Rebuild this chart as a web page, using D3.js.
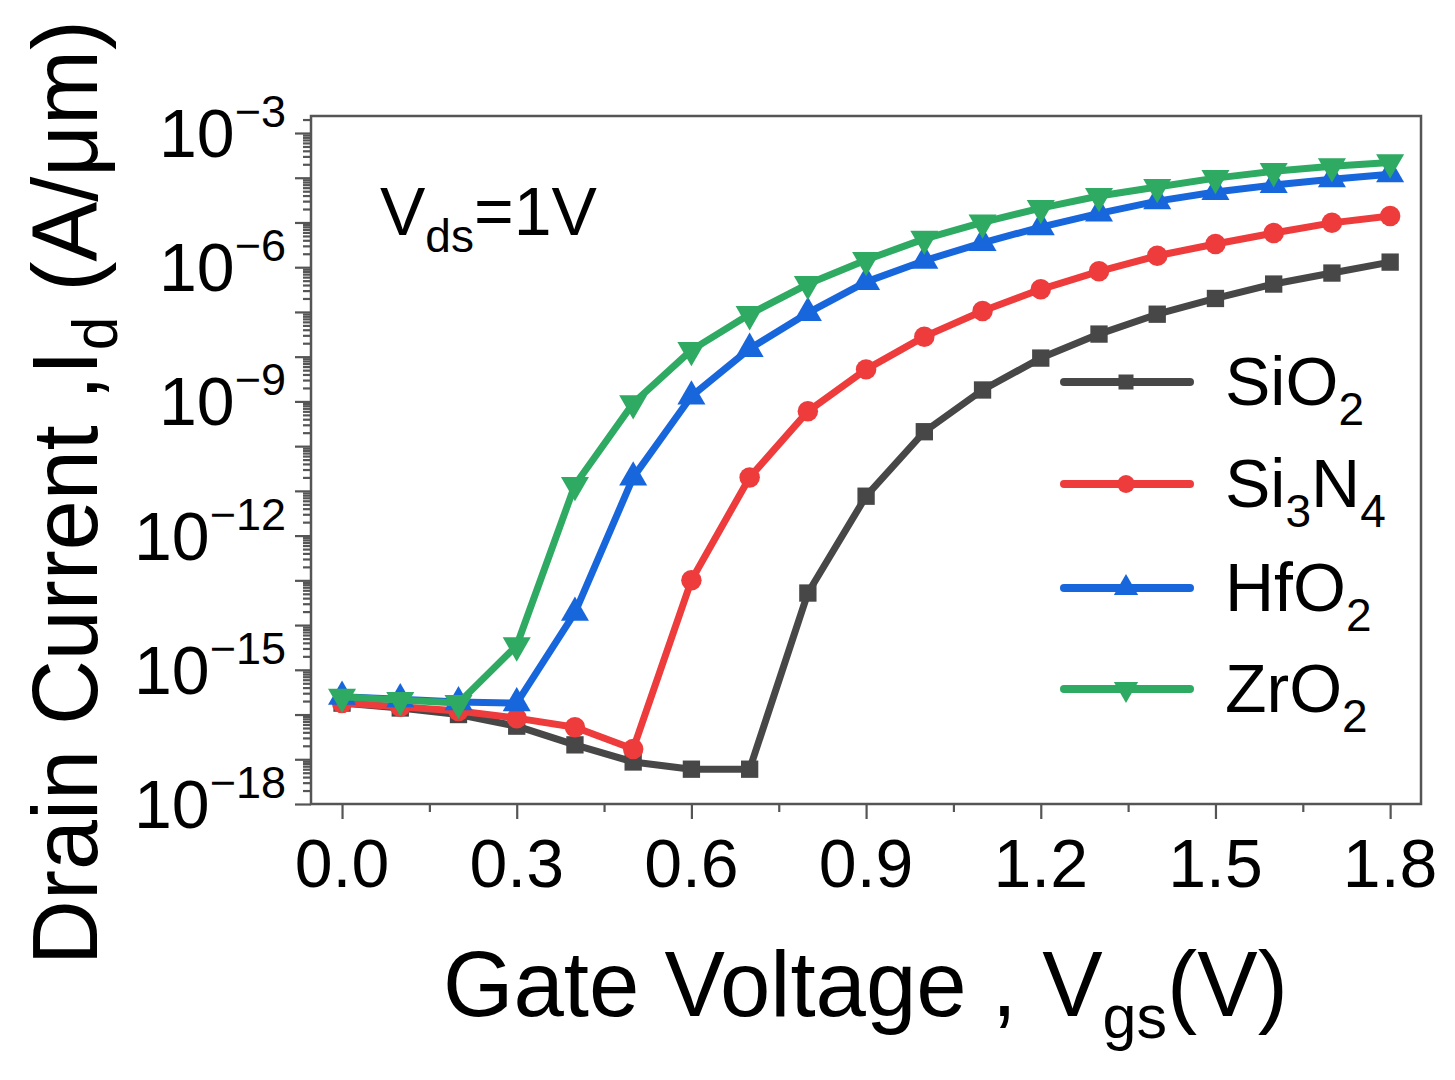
<!DOCTYPE html>
<html>
  <head>
    <meta charset="utf-8">
    <title>Id-Vgs</title>
    <script src="https://d3js.org/d3.v7.min.js"></script>
    <style>
      body { margin: 0; background: #fff; }
      svg text { font-family: "Liberation Sans", Arial, sans-serif; fill: #000; }
    </style>
  </head>
  <body>
    <svg id="chart" width="1455" height="1080"></svg>
    <script>
      // gate voltage (V)
      var vgs = [0.0, 0.1, 0.2, 0.3, 0.4, 0.5, 0.6, 0.7, 0.8, 0.9, 1.0, 1.1, 1.2, 1.3, 1.4, 1.5, 1.6, 1.7, 1.8];

      // drain current (A/um)
      var sio2  = [1.8e-16, 1.4e-16, 1.0e-16, 5.5e-17, 2.1e-17, 8.7e-18, 6.0e-18, 6.0e-18, 5.2e-14, 7.6e-12,
                   2.1e-10, 1.8e-9, 9.3e-9, 3.2e-8, 8.9e-8, 2.0e-7, 4.2e-7, 7.4e-7, 1.3e-6];
      var si3n4 = [1.8e-16, 1.5e-16, 1.2e-16, 8.3e-17, 5.2e-17, 1.7e-17, 1.0e-13, 2.0e-11, 6.0e-10, 5.2e-9,
                   2.8e-8, 1.05e-7, 3.2e-7, 8.1e-7, 1.8e-6, 3.3e-6, 5.8e-6, 9.8e-6, 1.4e-5];
      var hfo2  = [2.5e-16, 2.2e-16, 1.9e-16, 1.8e-16, 1.9e-14, 2.0e-11, 1.3e-9, 1.5e-8, 9.5e-8, 4.7e-7,
                   1.4e-6, 3.5e-6, 7.9e-6, 1.6e-5, 3.0e-5, 4.8e-5, 6.9e-5, 9.3e-5, 1.2e-4];
      var zro2  = [2.5e-16, 2.1e-16, 1.8e-16, 3.5e-15, 1.35e-11, 9.1e-10, 1.4e-8, 8.9e-8, 4.2e-7, 1.45e-6,
                   4.3e-6, 1.0e-5, 2.1e-5, 3.9e-5, 6.2e-5, 9.8e-5, 1.4e-4, 1.8e-4, 2.2e-4];

      var seriesNames = [["Si", "O", "2"], ["Si", "3", "N", "4"], ["Hf", "O", "2"], ["Zr", "O", "2"]];
      var xTicks = [0.0, 0.3, 0.6, 0.9, 1.2, 1.5, 1.8];
      var xMinorTicks = [0.15, 0.45, 0.75, 1.05, 1.35, 1.65];
      var yLabelExps = [-3, -6, -9, -12, -15, -18];

      var series = [
        { name: seriesNames[0], values: sio2,  color: "#474747", shape: d3.symbolSquare,   size: 300, rot: 0 },
        { name: seriesNames[1], values: si3n4, color: "#ee3b3b", shape: d3.symbolCircle,   size: 330, rot: 0 },
        { name: seriesNames[2], values: hfo2,  color: "#1766dc", shape: d3.symbolTriangle, size: 340, rot: 0 },
        { name: seriesNames[3], values: zro2,  color: "#2eaa62", shape: d3.symbolTriangle, size: 340, rot: 180 }
      ];

      var svg = d3.select("#chart");
      var L = 311, R = 1421, T = 116, B = 804;

      var x = d3.scaleLinear().domain([-0.0533, 1.853]).range([L, R]);
      var y = d3.scaleLog().domain([1e-18, 2.4e-3]).range([B, T]);

      var axisColor = "#555";

      // decade ticks and the 2..9 ticks in between
      var majors = [], minors = [];
      for (var e = -18; e <= -3; e++) {
        majors.push(Math.pow(10, e));
        for (var k = 2; k <= 9; k++) {
          var v = k * Math.pow(10, e);
          if (v <= 2.4e-3) minors.push(v);
        }
      }

      var gy = svg.append("g").attr("transform", "translate(" + L + ",0)");
      gy.append("g").call(d3.axisLeft(y).tickValues(minors).tickSize(8).tickFormat(""));
      gy.append("g").call(d3.axisLeft(y).tickValues(majors).tickSize(16).tickFormat(""));

      var gx = svg.append("g").attr("transform", "translate(0," + B + ")");
      gx.append("g").call(d3.axisBottom(x).tickValues(xMinorTicks).tickSize(8).tickFormat(""));
      gx.append("g").call(d3.axisBottom(x).tickValues(xTicks).tickSize(15).tickFormat(""));

      svg.selectAll(".domain").remove();
      svg.selectAll(".tick line").attr("stroke", axisColor).attr("stroke-width", 2.2);

      // frame
      svg.append("rect")
        .attr("x", L).attr("y", T).attr("width", R - L).attr("height", B - T)
        .attr("fill", "none").attr("stroke", axisColor).attr("stroke-width", 2.5);

      // x tick labels
      svg.append("g").selectAll("text")
        .data(xTicks)
        .join("text")
        .attr("x", d => x(d))
        .attr("y", 887)
        .attr("text-anchor", "middle")
        .attr("font-size", 68)
        .text(d => d.toFixed(1));

      // y tick labels 10^n
      var yl = svg.append("g").selectAll("text")
        .data(yLabelExps)
        .join("text")
        .attr("x", 286)
        .attr("y", d => y(Math.pow(10, d)) + 24)
        .attr("text-anchor", "end")
        .attr("font-size", 68);
      yl.append("tspan").text("10");
      yl.append("tspan").attr("font-size", 45).attr("dy", -30).text(d => "\u2212" + Math.abs(d));

      // lines and markers
      var line = d3.line()
        .x((d, i) => x(vgs[i]))
        .y(d => y(d));

      series.forEach(function(s) {
        svg.append("path")
          .datum(s.values)
          .attr("fill", "none")
          .attr("stroke", s.color)
          .attr("stroke-width", 7)
          .attr("stroke-linejoin", "round")
          .attr("d", line);
        svg.append("g").selectAll("path")
          .data(s.values)
          .join("path")
          .attr("d", d3.symbol().type(s.shape).size(s.size))
          .attr("fill", s.color)
          .attr("transform", (d, i) => "translate(" + x(vgs[i]) + "," + y(d) + ") rotate(" + s.rot + ")");
      });

      // legend
      var legY = [382, 484, 588, 689];
      series.forEach(function(s, i) {
        var g = svg.append("g").attr("transform", "translate(0," + legY[i] + ")");
        g.append("line").attr("x1", 1064).attr("x2", 1190).attr("y1", 0).attr("y2", 0)
          .attr("stroke", s.color).attr("stroke-width", 8).attr("stroke-linecap", "round");
        g.append("path")
          .attr("d", d3.symbol().type(s.shape).size(s.size * 0.75))
          .attr("fill", s.color)
          .attr("transform", "translate(1126,0) rotate(" + s.rot + ")");
        var t = g.append("text").attr("x", 1225).attr("y", 23).attr("font-size", 68);
        var sub = false;
        s.name.forEach(function(part) {
          var isNum = /^[0-9]$/.test(part);
          var ts = t.append("tspan").text(part);
          if (isNum && !sub) { ts.attr("font-size", 46).attr("dy", 20); sub = true; }
          else if (!isNum && sub) { ts.attr("dy", -20); sub = false; }
        });
      });

      // annotation
      var ann = svg.append("text").attr("x", 380).attr("y", 235).attr("font-size", 68);
      ann.append("tspan").text("V");
      ann.append("tspan").attr("font-size", 46).attr("dy", 17).text("ds");
      ann.append("tspan").attr("dy", -17).text("=1V");

      // x axis title
      var xt = svg.append("text").attr("x", 443).attr("y", 1016).attr("font-size", 92);
      xt.append("tspan").text("Gate Voltage , V");
      xt.append("tspan").attr("font-size", 62).attr("dy", 22).text("gs");
      xt.append("tspan").attr("dy", -22).text("(V)");
      var xw = xt.node().getComputedTextLength();
      xt.attr("textLength", null);
      if (xw > 845) xt.attr("transform", "translate(443,0) scale(" + (845 / xw) + ",1) translate(-443,0)");

      // y axis title (a little condensed along its length, as in the source)
      var yt = svg.append("text").attr("font-size", 92);
      yt.append("tspan").text("Drain Current ,I");
      yt.append("tspan").attr("font-size", 62).attr("dy", 20).text("d");
      yt.append("tspan").attr("dy", -20).text(" (A/\u03bcm)");
      var yw = yt.node().getBBox().width;
      var ys = Math.min(1, 945 / yw);
      yt.attr("transform", "translate(97,965) rotate(-90) scale(" + ys + ",1)");
    </script>
  </body>
</html>
